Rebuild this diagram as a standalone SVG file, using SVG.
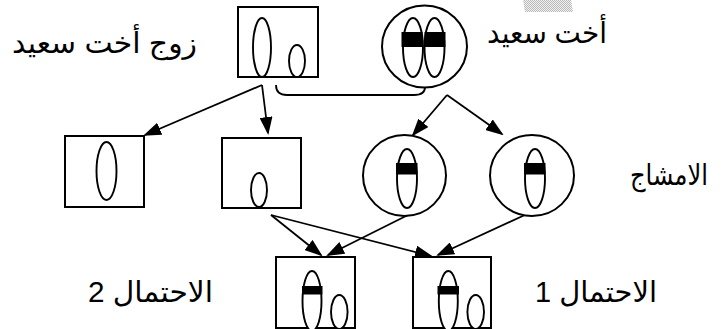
<svg xmlns="http://www.w3.org/2000/svg" width="723" height="329" viewBox="0 0 723 329">
  <style>
    .box { fill: #fff; stroke: #000; stroke-width: 2; }
    .cell { fill: #fff; stroke: #000; stroke-width: 2; }
    .chrom { fill: #fff; stroke: #000; stroke-width: 1.9; }
    .band { fill: #000; }
    .edge { fill: none; stroke: #000; stroke-width: 1.8; marker-end: url(#head); }
    .link { fill: none; stroke: #000; stroke-width: 1.8; }
    .label { font-family: 'Liberation Sans', 'DejaVu Sans', sans-serif; font-size: 29px; fill: #000; text-anchor: middle; }
  </style>
  <defs>
    <marker id="head" markerUnits="userSpaceOnUse" markerWidth="18" markerHeight="13" refX="16" refY="6.5" orient="auto">
      <path d="M0,0 L18,6.5 L0,13 z" fill="#000"/>
    </marker>
    <pattern id="dots" width="2" height="2" patternUnits="userSpaceOnUse">
      <rect width="2" height="2" fill="#f2f2f2"/>
      <rect width="1" height="1" fill="#b8b8b8"/>
      <rect x="1" y="1" width="1" height="1" fill="#b8b8b8"/>
    </pattern>
  </defs>

  <rect width="723" height="329" fill="#fff"/>

  <!-- grey shaded strip at the top edge -->
  <polygon points="523,0 571,0 573,12 525,12" fill="url(#dots)"/>

  <!-- connectors -->
  <g id="connectors">
    <path class="link" d="M276,85 Q276,95 287,95 H414 Q425,95 425,87"/>
    <line class="edge" x1="262" y1="85" x2="145" y2="135"/>
    <line class="edge" x1="262" y1="85" x2="268" y2="133"/>
    <line class="edge" x1="447" y1="95" x2="413" y2="135"/>
    <line class="edge" x1="447" y1="95" x2="502" y2="134"/>
    <line class="edge" x1="271" y1="215" x2="321" y2="255"/>
    <line class="edge" x1="271" y1="215" x2="431" y2="256"/>
    <line class="edge" x1="410" y1="214" x2="328" y2="255"/>
    <line class="edge" x1="527" y1="214" x2="438" y2="255"/>
  </g>

  <!-- father: two unmarked chromosomes -->
  <g id="father">
    <rect class="box" x="238" y="7" width="80" height="70"/>
    <ellipse class="chrom" cx="262" cy="47.5" rx="9" ry="29.5"/>
    <ellipse class="chrom" cx="297" cy="61" rx="8" ry="16"/>
  </g>

  <!-- mother: two marked chromosomes -->
  <g id="mother">
    <ellipse class="cell" cx="424.5" cy="46.5" rx="42.5" ry="41"/>
    <ellipse class="chrom" cx="413" cy="47.5" rx="10" ry="29.5"/>
    <ellipse class="chrom" cx="434.5" cy="47.5" rx="10" ry="29.5"/>
    <rect class="band" x="401.5" y="32" width="21" height="15"/>
    <rect class="band" x="424.5" y="32" width="21" height="15"/>
  </g>

  <!-- gametes from the father -->
  <g id="gamete-f1">
    <rect class="box" x="65" y="136" width="79" height="71"/>
    <ellipse class="chrom" cx="106.5" cy="171" rx="10" ry="29"/>
  </g>
  <g id="gamete-f2">
    <rect class="box" x="222" y="138" width="79" height="70"/>
    <ellipse class="chrom" cx="259" cy="190" rx="8" ry="17"/>
  </g>

  <!-- gametes from the mother -->
  <g id="gamete-m1">
    <ellipse class="cell" cx="404.5" cy="175.5" rx="41.5" ry="40.5"/>
    <ellipse class="chrom" cx="407" cy="178.5" rx="10" ry="29.5"/>
    <rect class="band" x="396" y="163" width="21.5" height="11.5"/>
  </g>
  <g id="gamete-m2">
    <ellipse class="cell" cx="532" cy="175.5" rx="42" ry="40.5"/>
    <ellipse class="chrom" cx="535" cy="178.5" rx="10" ry="29.5"/>
    <rect class="band" x="524" y="163" width="21.5" height="11.5"/>
  </g>

  <!-- offspring possibilities -->
  <g id="offspring-2">
    <rect class="box" x="276" y="257" width="79" height="71"/>
    <ellipse class="chrom" cx="312" cy="301" rx="9.5" ry="30"/>
    <rect class="band" x="302" y="286" width="20.5" height="8.5"/>
    <ellipse class="chrom" cx="339.3" cy="312" rx="8.3" ry="17"/>
  </g>
  <g id="offspring-1">
    <rect class="box" x="413" y="257" width="78" height="71"/>
    <ellipse class="chrom" cx="448.3" cy="301" rx="9.5" ry="30"/>
    <rect class="band" x="437.5" y="286" width="21.5" height="8.5"/>
    <ellipse class="chrom" cx="475.7" cy="312" rx="8.3" ry="17"/>
  </g>

  <!-- labels -->
  <g id="labels">
    <text class="label" x="104.5" y="53" textLength="185" lengthAdjust="spacingAndGlyphs">زوج أخت سعيد</text>
    <text class="label" x="547" y="43" textLength="120" lengthAdjust="spacingAndGlyphs">أخت سعيد</text>
    <text class="label" x="669" y="185" textLength="78" lengthAdjust="spacingAndGlyphs">الامشاج</text>
    <text class="label" x="150.5" y="302" textLength="125" lengthAdjust="spacingAndGlyphs">الاحتمال 2</text>
    <text class="label" x="596" y="302" textLength="122" lengthAdjust="spacingAndGlyphs">الاحتمال 1</text>
  </g>
</svg>
